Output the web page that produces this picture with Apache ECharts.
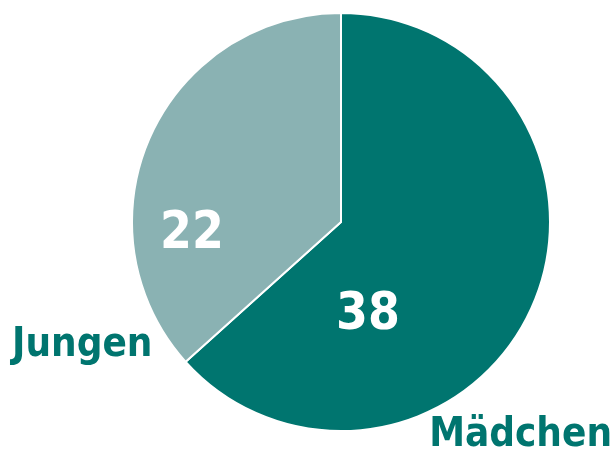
<!DOCTYPE html>
<html>
<head>
<meta charset="utf-8">
<script src="https://cdn.jsdelivr.net/npm/echarts@6/dist/echarts.min.js"></script>
<style>
  html, body { margin: 0; padding: 0; background: #ffffff; }
  #chart { width: 614px; height: 454px; }
</style>
</head>
<body>
<div id="chart"></div>
<script>
// Daten
var categories = ['Mädchen', 'Jungen'];
var values = [38, 22];
var colors = ['#00756f', '#8ab2b3'];

var chartDom = document.getElementById('chart');
var myChart = echarts.init(chartDom);

var fontFam = '"DejaVu Sans Condensed", "Liberation Sans Narrow", sans-serif';

var pieData = categories.map(function (name, i) {
  return { name: name, value: values[i], itemStyle: { color: colors[i] } };
});

// Position der Zahlen im Kreis und der Namen daneben
var valuePos = [[368, 316], [192, 235]];
var namePos = [[612, 436, 'right'], [12, 346, 'left']];

var option = {
  animation: false,
  series: [
    {
      type: 'pie',
      center: [341, 222],
      radius: 209,
      startAngle: 90,
      clockwise: true,
      data: pieData,
      itemStyle: { borderColor: '#ffffff', borderWidth: 2 },
      label: {
        show: true,
        position: 'inside',
        formatter: '{c}',
        color: '#ffffff',
        fontFamily: fontFam,
        fontWeight: 'bold',
        fontSize: 51
      },
      labelLine: { show: false },
      labelLayout: function (params) {
        var p = valuePos[params.dataIndex];
        return { x: p[0], y: p[1], align: 'center', verticalAlign: 'middle' };
      }
    },
    {
      type: 'pie',
      center: [341, 222],
      radius: 209,
      startAngle: 90,
      clockwise: true,
      silent: true,
      data: categories.map(function (name, i) {
        return { name: name, value: values[i], itemStyle: { color: 'transparent' } };
      }),
      label: {
        show: true,
        position: 'inside',
        formatter: '{b}',
        color: '#00756f',
        fontFamily: fontFam,
        fontWeight: 'bold',
        fontSize: 40
      },
      labelLine: { show: false },
      labelLayout: function (params) {
        var p = namePos[params.dataIndex];
        return { x: p[0], y: p[1], align: p[2], verticalAlign: 'middle' };
      }
    }
  ]
};

myChart.setOption(option);
</script>
</body>
</html>
